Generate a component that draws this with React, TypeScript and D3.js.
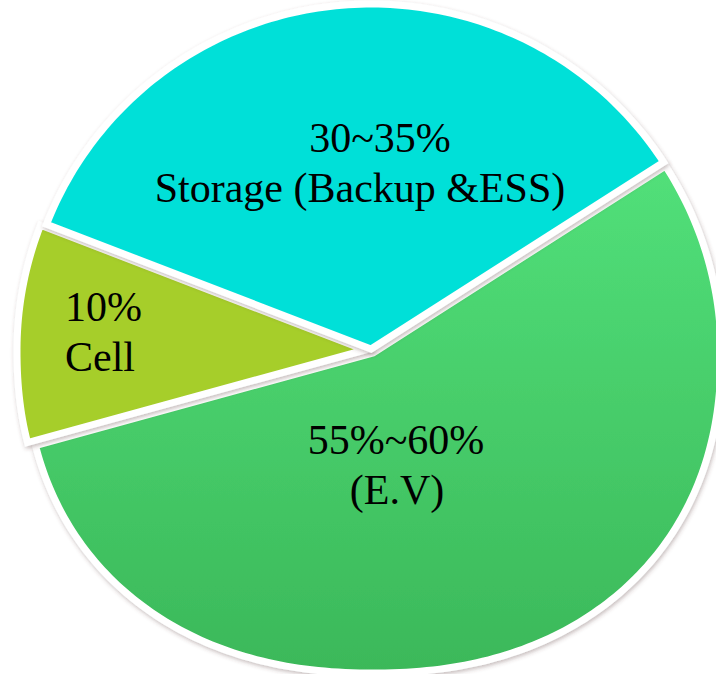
import { useMemo } from 'react';
import * as d3 from 'd3';

// slice data, in drawing order (clockwise from the upper right)
const categories = ['E.V', 'Cell', 'Storage'];
const shares = [55, 10, 35];
const pctLabels = ['55%~60%', '10%', '30~35%'];
const nameLabels = ['(E.V)', 'Cell', 'Storage (Backup &ESS)'];

const width = 716;
const height = 674;

// tilted pie outline (rough 3d look of the original)
const cx = 372;
const cy = 350;
const rx = 348;
const ryTop = 345;
const ryBot = 320;
const bottomExp = 2 / 2.2;

const startDeg = 57.2;

const sliceStyle: Record<string, { fill: string; dx: number; dy: number }> = {
  'E.V': { fill: 'url(#ev-grad)', dx: 1, dy: 3 },
  Cell: { fill: '#a6ce2b', dx: -7, dy: 0 },
  Storage: { fill: '#05e0d8', dx: -1, dy: -1 },
};

// label anchor (first line), text-anchor per line
const labelLayout: Record<string, { x1: number; x2: number; y: number; anchor: string }> = {
  'E.V': { x1: 396, x2: 397, y: 454, anchor: 'middle' },
  Cell: { x1: 65, x2: 65, y: 321, anchor: 'start' },
  Storage: { x1: 380, x2: 360, y: 152, anchor: 'middle' },
};

function project(a: number): [number, number] {
  const c = Math.cos(a);
  const s = Math.sin(a);
  if (s < 0) return [cx + rx * c, cy + ryTop * s];
  return [
    cx + rx * Math.sign(c) * Math.pow(Math.abs(c), bottomExp),
    cy + ryBot * Math.pow(s, bottomExp),
  ];
}

export default function App() {
  const arcs = useMemo(() => {
    const pie = d3
      .pie<number>()
      .sort(null)
      .value((d) => d)
      .startAngle((startDeg * Math.PI) / 180)
      .endAngle((startDeg * Math.PI) / 180 + Math.PI * 2);
    const line = d3.line().curve(d3.curveLinearClosed);

    return pie(shares).map((p, i) => {
      const a0 = p.startAngle - Math.PI / 2;
      const a1 = p.endAngle - Math.PI / 2;
      const steps = Math.max(8, Math.ceil(((a1 - a0) * 180) / Math.PI));
      const pts: [number, number][] = [[cx, cy]];
      for (let k = 0; k <= steps; k++) {
        pts.push(project(a0 + ((a1 - a0) * k) / steps));
      }
      return { key: categories[i], d: line(pts) || '' };
    });
  }, []);

  return (
    <svg
      width={width}
      height={height}
      style={{ position: 'absolute', left: 0, top: 0, background: '#fff' }}
    >
      <defs>
        <linearGradient id="ev-grad" x1="0" y1="160" x2="0" y2="672" gradientUnits="userSpaceOnUse">
          <stop offset="0%" stopColor="#52e07a" />
          <stop offset="100%" stopColor="#3bb859" />
        </linearGradient>
        <filter id="shadow" x="-10%" y="-10%" width="120%" height="120%">
          <feDropShadow dx="1" dy="2" stdDeviation="2" floodColor="#5a3a3a" floodOpacity="0.35" />
        </filter>
      </defs>

      {arcs.map((a) => {
        const st = sliceStyle[a.key];
        return (
          <path
            key={a.key}
            d={a.d}
            transform={`translate(${st.dx},${st.dy})`}
            fill={st.fill}
            stroke="#fff"
            strokeWidth={7}
            strokeLinejoin="miter"
            filter="url(#shadow)"
          />
        );
      })}

      {categories.map((c, i) => {
        const l = labelLayout[c];
        return (
          <g
            key={c}
            fontFamily="'Liberation Serif', 'Times New Roman', serif"
            fontSize={42}
            fill="#000"
            textAnchor={l.anchor}
          >
            <text x={l.x1} y={l.y}>
              {pctLabels[i]}
            </text>
            <text x={l.x2} y={l.y + 50}>
              {nameLabels[i]}
            </text>
          </g>
        );
      })}
    </svg>
  );
}
